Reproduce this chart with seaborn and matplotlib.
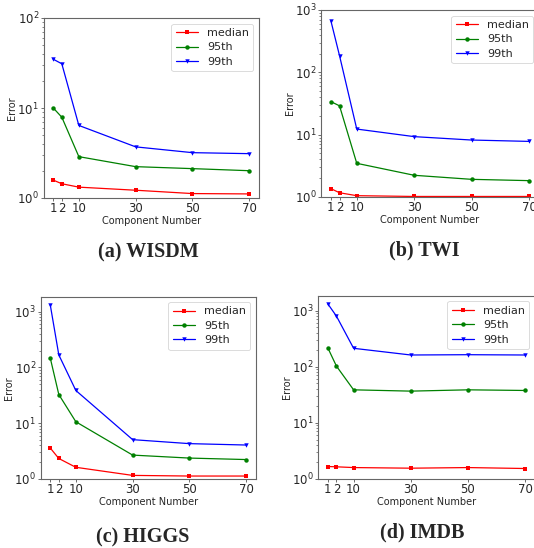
import matplotlib
matplotlib.use("Agg")
import matplotlib.pyplot as plt
import seaborn as sns
import numpy as np

sns.set_style("ticks")
plt.rcParams['font.family'] = ['DejaVu Sans']

# x positions used on the axis and the labels written at them
components = [1, 4, 10, 30, 50, 70]
xtick_labels = ["1", "2", "10", "30", "50", "70"]

wisdm_median = [1.58, 1.44, 1.32, 1.22, 1.12, 1.11]
wisdm_95 = [10.0, 7.9, 2.88, 2.23, 2.12, 2.01]
wisdm_99 = [34.8, 31.0, 6.4, 3.7, 3.19, 3.11]

twi_median = [1.36, 1.17, 1.05, 1.02, 1.02, 1.02]
twi_95 = [33.9, 29.0, 3.47, 2.23, 1.92, 1.83]
twi_99 = [668, 185, 12.3, 9.3, 8.2, 7.8]

higgs_median = [3.58, 2.33, 1.62, 1.16, 1.13, 1.13]
higgs_95 = [146, 32.6, 10.6, 2.68, 2.37, 2.23]
higgs_99 = [1306, 167, 38.5, 5.07, 4.3, 4.06]

imdb_median = [1.65, 1.63, 1.58, 1.54, 1.58, 1.52]
imdb_95 = [215, 102, 38.5, 36.5, 38.5, 37.5]
imdb_99 = [1312, 795, 212, 161, 163, 161]

captions = ["(a) WISDM", "(b) TWI", "(c) HIGGS", "(d) IMDB"]
series_labels = ["median", "95th", "99th"]

panels = [
    (wisdm_median, wisdm_95, wisdm_99),
    (twi_median, twi_95, twi_99),
    (higgs_median, higgs_95, higgs_99),
    (imdb_median, imdb_95, imdb_99),
]
ylims = [(1, 100), (1, 1000), (1, None), (1, None)]

W, H = 534, 548
fig = plt.figure(figsize=(W / 100, H / 100), dpi=100)

# axes boxes in pixels: left, right, top, bottom
boxes = [
    (43.5, 259, 18, 198),
    (321, 539, 10, 197),
    (40.5, 256, 296.5, 479),
    (318, 535, 295.7, 478.7),
]
cap_pos = [(148, 252), (424, 250), (143, 537), (422, 532)]

colors = ["red", "green", "blue"]
markers = ["s", "o", "v"]

for i, (vals, box) in enumerate(zip(panels, boxes)):
    l, r, t, b = box
    ax = fig.add_axes([l / W, (H - b) / H, (r - l) / W, (b - t) / H])
    for v, lab, c, m in zip(vals, series_labels, colors, markers):
        sns.lineplot(x=components, y=v, ax=ax, color=c, marker=m,
                     markersize=3.2, markeredgewidth=0, linewidth=0.9,
                     label=lab)
    ax.set_yscale("log")
    lo, hi = ylims[i]
    if hi is None:
        ax.set_ylim(bottom=lo)
    else:
        ax.set_ylim(lo, hi)
    ax.set_xticks(components)
    ax.set_xticklabels(xtick_labels)
    ax.set_xlabel("Component Number", fontsize=7, labelpad=0.5)
    ax.set_ylabel("Error", fontsize=7, labelpad=0)
    ax.tick_params(axis="both", labelsize=8.5, length=2.2, width=0.6,
                   color="#555555", pad=1)
    ax.tick_params(axis="y", which="minor", length=1.6, width=0.5,
                   color="#555555")
    for s in ax.spines.values():
        s.set_color("#666666")
        s.set_linewidth(0.8)
    leg = ax.legend(loc="upper right", fontsize=8, frameon=True,
                    borderaxespad=0.5, labelspacing=0.4)
    leg.get_frame().set_linewidth(0.6)
    cx, cy = cap_pos[i]
    fig.text(cx / W, (H - cy) / H, captions[i], ha="center", va="center",
             fontsize=14.5, fontweight="bold", family="Liberation Serif")

fig.savefig("out.png", dpi=100)
